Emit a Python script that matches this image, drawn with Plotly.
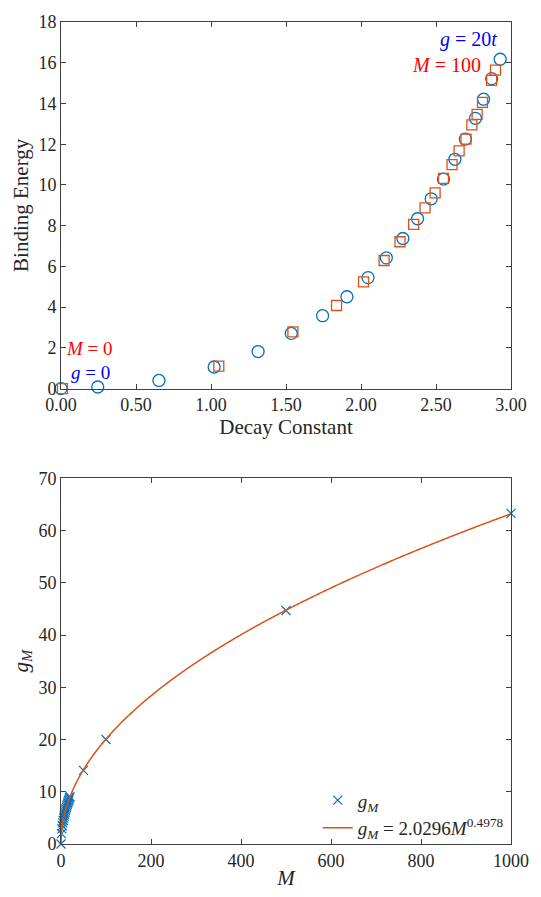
import numpy as np
import plotly.graph_objects as go

# ---- Top panel data (Decay Constant vs Binding Energy) ----
circ_x = [0.0, 0.245, 0.653, 1.021, 1.314, 1.535, 1.744, 1.906, 2.047, 2.169,
          2.279, 2.377, 2.468, 2.550, 2.626, 2.696, 2.763, 2.817, 2.871, 2.928]
circ_y = [0.0, 0.08, 0.40, 1.06, 1.82, 2.71, 3.58, 4.51, 5.45, 6.42,
          7.37, 8.34, 9.32, 10.29, 11.26, 12.25, 13.27, 14.21, 15.22, 16.17]
sq_x = [0.01, 1.052, 1.546, 1.837, 2.017, 2.154, 2.260, 2.351, 2.427, 2.494,
        2.550, 2.607, 2.654, 2.700, 2.739, 2.774, 2.810, 2.871, 2.897]
sq_y = [0.0, 1.10, 2.79, 4.08, 5.24, 6.29, 7.21, 8.06, 8.87, 9.61,
        10.32, 11.00, 11.67, 12.25, 12.95, 13.46, 14.05, 15.13, 15.64]

# ---- Bottom panel data (M vs g_M) ----
M_vals = [0, 1, 2, 3, 4, 5, 6, 7, 8, 9, 10, 11, 12, 13, 14, 15, 16, 17, 18, 19, 20,
          50, 100, 500, 1000]
gM_vals = [0.0, 2.0, 2.9, 3.5, 4.05, 4.5, 4.95, 5.35, 5.7, 6.05, 6.4, 6.7, 7.0, 7.3,
           7.6, 7.85, 8.1, 8.35, 8.6, 8.85, 9.05, 14.1, 20.0, 44.7, 63.3]
fit_a = 2.0296
fit_b = 0.4978

BLUE = "#0072BD"
ORANGE = "#D95319"
FONT = "Liberation Serif"
AXC = "#404040"
TXT = "#262626"

fig = go.Figure()

fig.add_trace(go.Scatter(x=circ_x, y=circ_y, mode="markers", xaxis="x", yaxis="y",
                         marker=dict(symbol="circle-open", size=12, color=BLUE,
                                     line=dict(width=1.3, color=BLUE)),
                         cliponaxis=False, showlegend=False))
fig.add_trace(go.Scatter(x=sq_x, y=sq_y, mode="markers", xaxis="x", yaxis="y",
                         marker=dict(symbol="square-open", size=10, color=ORANGE,
                                     line=dict(width=1.3, color=ORANGE)),
                         cliponaxis=False, showlegend=False))

fit_M = np.linspace(0, 1000, 800)
fit_g = fit_a * fit_M ** fit_b

fig.add_trace(go.Scatter(x=M_vals, y=gM_vals, mode="markers", xaxis="x2", yaxis="y2",
                         name="<i>g<sub>M</sub></i>",
                         marker=dict(symbol="x-thin-open", size=9, color=BLUE,
                                     line=dict(width=1.2, color=BLUE)),
                         cliponaxis=False))
fig.add_trace(go.Scatter(x=fit_M, y=fit_g, mode="lines", xaxis="x2", yaxis="y2",
                         name="<i>g<sub>M</sub></i> = 2.0296<i>M</i><sup>0.4978</sup>",
                         line=dict(color=ORANGE, width=1.5, simplify=False)))

axis_common = dict(showline=True, linecolor=AXC, linewidth=1, mirror="ticks",
                   ticks="inside", ticklen=5, tickcolor=AXC, showgrid=False,
                   zeroline=False, tickfont=dict(family=FONT, size=18, color=TXT))
TITLE_FONT = dict(family=FONT, size=21, color=TXT)

fig.update_layout(
    width=541, height=897,
    margin=dict(l=61, r=19, t=14, b=49),
    paper_bgcolor="white", plot_bgcolor="white",
    font=dict(family=FONT, color=TXT),
    xaxis=dict(domain=[0, 1], anchor="y", range=[0, 3], tickvals=[0, 0.5, 1, 1.5, 2, 2.5, 3],
               tickformat=".2f",
               title=dict(text="Decay Constant", font=TITLE_FONT, standoff=0),
               **axis_common),
    yaxis=dict(domain=[0.554, 1], anchor="x", range=[0, 18], dtick=2,
               title=dict(text="Binding Energy", font=TITLE_FONT, standoff=4),
               **axis_common),
    xaxis2=dict(domain=[0, 1], anchor="y2", range=[0, 1000], dtick=200,
                title=dict(text="<i>M</i>", font=TITLE_FONT, standoff=0),
                **axis_common),
    yaxis2=dict(domain=[0, 0.4448], anchor="x2", range=[0, 70], dtick=10,
                title=dict(text="<i>g<sub>M</sub></i>", font=TITLE_FONT, standoff=4),
                **axis_common),
    legend=dict(x=0.995, y=-0.004, xanchor="right", yanchor="bottom",
                bgcolor="rgba(0,0,0,0)", font=dict(family=FONT, size=19, color=TXT),
                tracegroupgap=0, itemwidth=30),
    annotations=[
        dict(x=2.917, y=17.12, xref="x", yref="y", text="<i>g</i> = 20<i>t</i>",
             showarrow=False, xanchor="right", yanchor="middle",
             font=dict(family=FONT, size=20, color="#0000FF")),
        dict(x=2.813, y=15.9, xref="x", yref="y", text="<i>M</i> = 100",
             showarrow=False, xanchor="right", yanchor="middle",
             font=dict(family=FONT, size=20, color="#FF0000")),
        dict(x=0.02, y=1.98, xref="x", yref="y", text="<i>M</i> = 0",
             showarrow=False, xanchor="left", yanchor="middle",
             font=dict(family=FONT, size=19, color="#FF0000")),
        dict(x=0.05, y=0.78, xref="x", yref="y", text="<i>g</i> = 0",
             showarrow=False, xanchor="left", yanchor="middle",
             font=dict(family=FONT, size=19, color="#0000FF")),
    ],
)

fig.write_html("out.html")
